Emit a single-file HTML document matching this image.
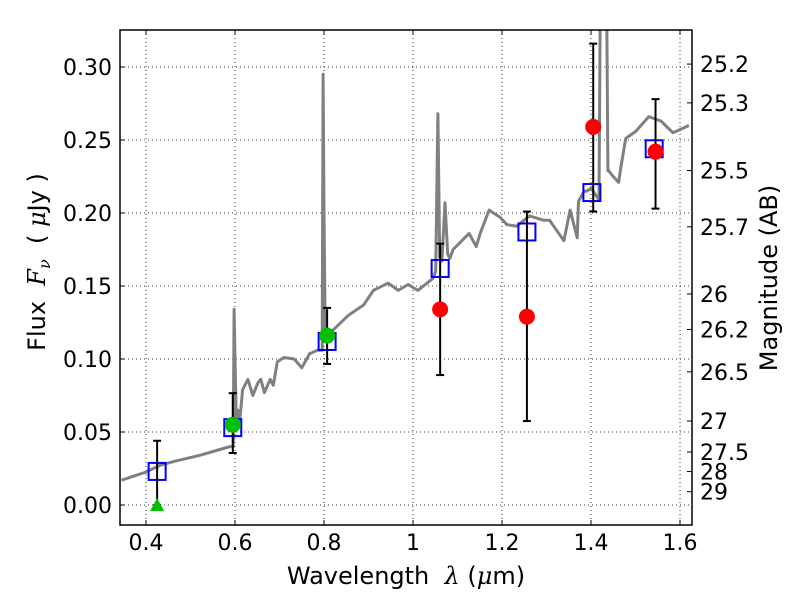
<!DOCTYPE html>
<html><head><meta charset="utf-8"><style>
body{margin:0;background:#fff;}
svg{display:block;font-family:"DejaVu Sans","Liberation Sans",sans-serif;}
</style></head><body>
<svg id="chart" width="800" height="600">
</svg>
<script>
const specLam=[0.345,0.40,0.43,0.465,0.52,0.566,0.589,0.596,0.598,0.600,0.603,0.606,0.61,0.617,0.629,0.64,0.652,0.658,0.666,0.679,0.686,0.695,0.71,0.733,0.75,0.768,0.771,0.785,0.796,0.798,0.80,0.803,0.807,0.821,0.855,0.889,0.911,0.944,0.967,0.989,1.011,1.044,1.051,1.056,1.060,1.065,1.072,1.078,1.083,1.090,1.126,1.142,1.151,1.171,1.196,1.211,1.233,1.262,1.294,1.307,1.339,1.353,1.369,1.372,1.385,1.391,1.4,1.418,1.422,1.425,1.428,1.430,1.434,1.438,1.440,1.447,1.462,1.467,1.478,1.501,1.530,1.557,1.584,1.607,1.62];
const specFlux=[0.017,0.0226,0.027,0.030,0.034,0.038,0.040,0.040,0.134,0.10,0.058,0.065,0.055,0.079,0.086,0.075,0.084,0.086,0.077,0.086,0.082,0.098,0.101,0.100,0.094,0.104,0.104,0.106,0.106,0.295,0.20,0.112,0.113,0.12,0.13,0.137,0.147,0.152,0.147,0.151,0.147,0.155,0.160,0.268,0.170,0.167,0.207,0.172,0.169,0.175,0.186,0.177,0.186,0.202,0.197,0.192,0.191,0.198,0.195,0.195,0.181,0.202,0.183,0.208,0.215,0.215,0.217,0.209,0.40,0.40,0.40,0.40,0.40,0.229,0.229,0.226,0.221,0.231,0.251,0.256,0.266,0.263,0.255,0.258,0.26];
const modelLam=[0.425,0.595,0.807,1.061,1.256,1.402,1.542];
const modelFlux=[0.023,0.053,0.112,0.162,0.187,0.214,0.244];
const greenLam=[0.595,0.807];
const greenFlux=[0.055,0.116];
const greenLo=[0.0356,0.0966];
const greenHi=[0.0766,0.135];
const limLam=[0.425];
const limFlux=[0.0];
const limHi=[0.044];
const redLam=[1.061,1.256,1.405,1.545];
const redFlux=[0.134,0.129,0.259,0.242];
const redLo=[0.089,0.0575,0.201,0.203];
const redHi=[0.179,0.201,0.316,0.278];
const xTicks=[0.4,0.6,0.8,1.0,1.2,1.4,1.6];
const xTickLabels=["0.4","0.6","0.8","1","1.2","1.4","1.6"];
const yTicks=[0,0.05,0.1,0.15,0.2,0.25,0.3];
const yTickLabels=["0.00","0.05","0.10","0.15","0.20","0.25","0.30"];
const magTicks=[25.2,25.3,25.5,25.7,26,26.2,26.5,27,27.5,28,29];

const L=120,R=692,T=30,B=525;
const X=v=>146+(v-0.4)*445;
const Y=v=>505-v*1460;
const NS="http://www.w3.org/2000/svg";
const svg=document.getElementById('chart');
function mk(tag,attrs,parent){const e=document.createElementNS(NS,tag);for(const k in attrs)e.setAttribute(k,attrs[k]);(parent||svg).appendChild(e);return e;}
const defs=mk('defs',{});
const cp=mk('clipPath',{id:'clip'},defs);mk('rect',{x:L,y:T,width:R-L,height:B-T},cp);

xTicks.forEach((t,i)=>{
  const g=mk('line',{x1:X(t),x2:X(t),y1:T,y2:B,stroke:'#000','stroke-width':0.8,'stroke-dasharray':'1,3'});
  
  
  mk('line',{x1:X(t),x2:X(t),y1:B,y2:B-5,stroke:'#000'});
  mk('line',{x1:X(t),x2:X(t),y1:T,y2:T+5,stroke:'#000'});
  const tx=mk('text',{x:X(t),y:B+25,'text-anchor':'middle','font-size':22});
  tx.textContent=xTickLabels[i];
  
  
});
yTicks.forEach((t,i)=>{
  const g=mk('line',{x1:L,x2:R,y1:Y(t),y2:Y(t),stroke:'#000','stroke-width':0.8,'stroke-dasharray':'1,3'});
  
  
  mk('line',{x1:L,x2:L+5,y1:Y(t),y2:Y(t),stroke:'#000'});
  const tx=mk('text',{x:L-8,y:Y(t)+8,'text-anchor':'end','font-size':22});
  tx.textContent=yTickLabels[i];
  
  
});
magTicks.forEach(m=>{
  const f=Math.pow(10,-(m-23.9)/2.5);
  const y=Y(f);
  mk('line',{x1:R,x2:R-5,y1:y,y2:y,stroke:'#000'});
  const tx=mk('text',{x:R+8,y:y+8,'font-size':22});
  tx.textContent=String(m);
  
  
});

const plot=mk('g',{'clip-path':'url(#clip)'});


const pts=specLam.map((l,i)=>X(l).toFixed(1)+','+Y(specFlux[i]).toFixed(1)).join(' ');
const sp=mk('polyline',{points:pts,fill:'none',stroke:'#808080','stroke-width':3,'stroke-linejoin':'round'},plot);



modelLam.forEach((l,i)=>{
  const r=mk('rect',{x:X(l)-8.5,y:Y(modelFlux[i])-8.5,width:17,height:17,fill:'none',stroke:'#0000ff','stroke-width':2},plot);
  
  
});
function errbar(x,lo,hi){
  mk('line',{x1:x,x2:x,y1:Y(lo),y2:Y(hi),stroke:'#000','stroke-width':2},plot);
  mk('line',{x1:x-4,x2:x+4,y1:Y(lo),y2:Y(lo),stroke:'#000','stroke-width':2},plot);
  mk('line',{x1:x-4,x2:x+4,y1:Y(hi),y2:Y(hi),stroke:'#000','stroke-width':2},plot);
}
greenLam.forEach((l,i)=>{
  errbar(X(l),greenLo[i],greenHi[i]);
  const c=mk('circle',{cx:X(l),cy:Y(greenFlux[i]),r:8,fill:'#00c000'},plot);
  
  
});
limLam.forEach((l,i)=>{
  errbar(X(l),limFlux[i],limHi[i]);
  const x=X(l),y=Y(limFlux[i]);
  const p=mk('polygon',{points:`${x-7},${y+6} ${x+7},${y+6} ${x},${y-7}`,fill:'#00c000'},plot);
  
  
});
redLam.forEach((l,i)=>{
  errbar(X(l),redLo[i],redHi[i]);
  const c=mk('circle',{cx:X(l),cy:Y(redFlux[i]),r:8,fill:'#ff0000'},plot);
  
  
});

const fr=mk('rect',{x:L,y:T,width:R-L,height:B-T,fill:'none',stroke:'#000','stroke-width':1.5});



const xl=mk('text',{x:406,y:584,'text-anchor':'middle','font-size':24,'xml:space':'preserve',style:'white-space:pre'});
xl.innerHTML='Wavelength  <tspan font-style="italic" font-family="DejaVu Serif,serif">λ</tspan> (<tspan font-style="italic" font-family="DejaVu Serif,serif">μ</tspan>m)';


const yl=mk('text',{x:0,y:0,'text-anchor':'middle','font-size':24,style:'white-space:pre',transform:'translate(45,262) rotate(-90)'});
yl.innerHTML='Flux  <tspan font-style="italic" font-family="DejaVu Serif,serif">F<tspan font-size="16" dy="5">ν</tspan></tspan><tspan dy="-5">  ( </tspan><tspan font-style="italic" font-family="DejaVu Serif,serif">μ</tspan>Jy )';


const rl=mk('text',{x:0,y:0,'text-anchor':'middle','font-size':24,transform:'translate(777,278) rotate(-90)'});
rl.textContent='Magnitude (AB)';


</script>
</body></html>
